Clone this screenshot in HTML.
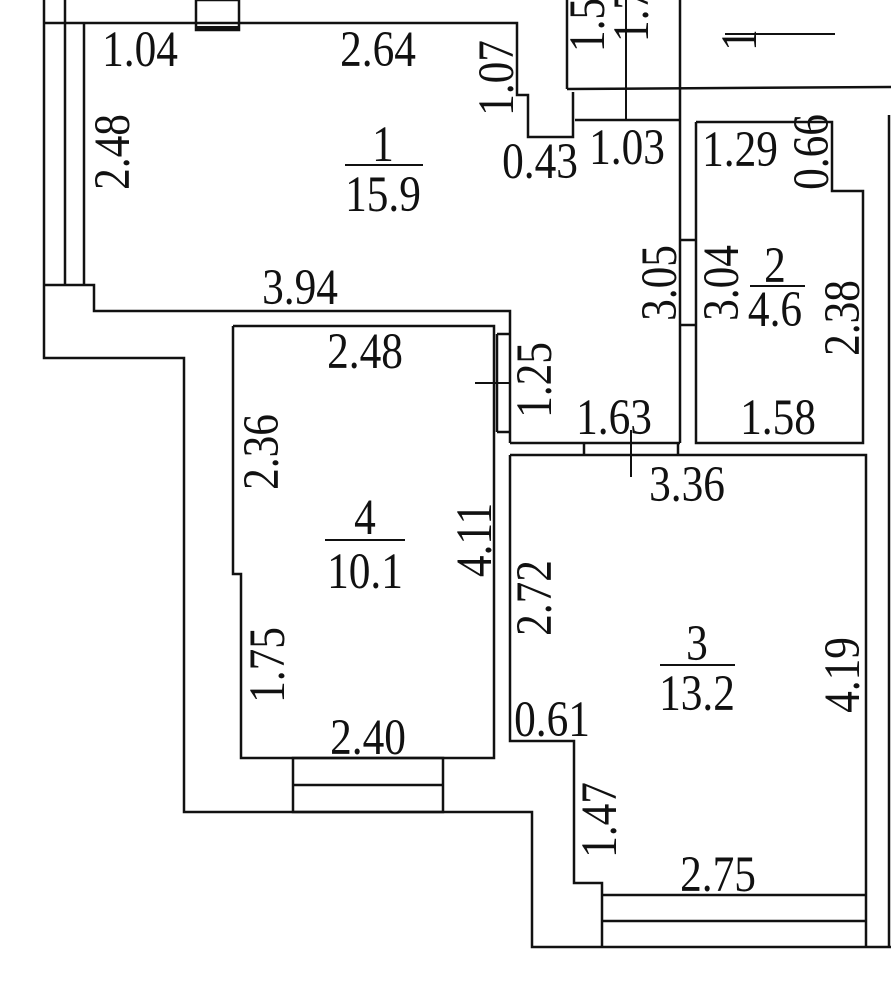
<!DOCTYPE html>
<html><head><meta charset="utf-8"><style>
html,body{margin:0;padding:0;background:#fff;}
svg{display:block}
text{font-family:"Liberation Serif",serif;font-size:51px;fill:#111;text-anchor:middle;dominant-baseline:central}
</style></head><body>
<svg width="891" height="1000" viewBox="0 0 891 1000" xmlns="http://www.w3.org/2000/svg">
<g fill="none" stroke="#111" stroke-width="2.5">
<polyline points="44,0 44,358 184,358 184,812 532,812 532,947 891,947"/>
<polyline points="65,0 65,23"/>
<polyline points="44,23 517,23 517,95 528,95 528,137 573,137 573,92"/>
<rect x="196" y="0" width="43" height="30"/>
<line x1="196" y1="28" x2="239" y2="28" stroke-width="4"/>
<line x1="65" y1="23" x2="65" y2="285"/>
<line x1="84" y1="23" x2="84" y2="285"/>
<polyline points="44,285 94,285 94,311 510,311 510,443"/>
<line x1="567" y1="0" x2="567" y2="89"/>
<line x1="567" y1="89" x2="891" y2="87"/>
<line x1="575" y1="120" x2="680" y2="120"/>
<line x1="680" y1="0" x2="680" y2="443"/>
<line x1="626" y1="0" x2="626" y2="120" stroke-width="2"/>
<line x1="725" y1="34" x2="835" y2="34" stroke-width="2"/>
<polyline points="233,326 494,326 494,758 241,758 241,574 233,574 233,326"/>
<line x1="497" y1="334" x2="510" y2="334"/>
<line x1="497" y1="432" x2="510" y2="432"/>
<line x1="497" y1="334" x2="497" y2="432"/>
<line x1="475" y1="383" x2="510" y2="383" stroke-width="2"/>
<rect x="293" y="758" width="150" height="54"/>
<line x1="293" y1="785" x2="443" y2="785"/>
<line x1="510" y1="443" x2="680" y2="443"/>
<line x1="584" y1="443" x2="584" y2="455"/>
<line x1="678" y1="443" x2="678" y2="455"/>
<line x1="631" y1="430" x2="631" y2="477" stroke-width="2"/>
<polyline points="696,122 832,122 832,191 863,191 863,443 696,443 696,122"/>
<line x1="680" y1="240" x2="696" y2="240"/>
<line x1="680" y1="325" x2="696" y2="325"/>
<line x1="889" y1="115" x2="889" y2="947"/>
<polyline points="510,455 866,455 866,947"/>
<polyline points="510,455 510,741 574,741 574,883 602,883 602,947"/>
<line x1="602" y1="895" x2="866" y2="895"/>
<line x1="602" y1="921" x2="866" y2="921"/>
<line x1="345" y1="165" x2="423" y2="165" stroke-width="2"/>
<line x1="750" y1="286" x2="805" y2="286" stroke-width="2"/>
<line x1="325" y1="540" x2="405" y2="540" stroke-width="2"/>
<line x1="660" y1="665" x2="735" y2="665" stroke-width="2"/>
</g>
<g>
<text transform="translate(140,50) scale(0.85,1)">1.04</text>
<text transform="translate(378,50) scale(0.85,1)">2.64</text>
<text transform="translate(497,78) rotate(-90) scale(0.85,1)">1.07</text>
<text transform="translate(113,152) rotate(-90) scale(0.85,1)">2.48</text>
<text transform="translate(383,145) scale(0.85,1)">1</text>
<text transform="translate(383,195) scale(0.85,1)">15.9</text>
<text transform="translate(540,162) scale(0.85,1)">0.43</text>
<text transform="translate(627,148) scale(0.85,1)">1.03</text>
<text transform="translate(740,150) scale(0.85,1)">1.29</text>
<text transform="translate(812,152) rotate(-90) scale(0.85,1)">0.66</text>
<text transform="translate(300,288) scale(0.85,1)">3.94</text>
<text transform="translate(660,283) rotate(-90) scale(0.85,1)">3.05</text>
<text transform="translate(722,283) rotate(-90) scale(0.85,1)">3.04</text>
<text transform="translate(775,266) scale(0.85,1)">2</text>
<text transform="translate(775,310) scale(0.85,1)">4.6</text>
<text transform="translate(843,318) rotate(-90) scale(0.85,1)">2.38</text>
<text transform="translate(365,352) scale(0.85,1)">2.48</text>
<text transform="translate(535,380) rotate(-90) scale(0.85,1)">1.25</text>
<text transform="translate(614,418) scale(0.85,1)">1.63</text>
<text transform="translate(778,418) scale(0.85,1)">1.58</text>
<text transform="translate(262,452) rotate(-90) scale(0.85,1)">2.36</text>
<text transform="translate(687,485) scale(0.85,1)">3.36</text>
<text transform="translate(365,518) scale(0.85,1)">4</text>
<text transform="translate(365,572) scale(0.85,1)">10.1</text>
<text transform="translate(475,540) rotate(-90) scale(0.85,1)">4.11</text>
<text transform="translate(535,598) rotate(-90) scale(0.85,1)">2.72</text>
<text transform="translate(697,644) scale(0.85,1)">3</text>
<text transform="translate(697,694) scale(0.85,1)">13.2</text>
<text transform="translate(843,675) rotate(-90) scale(0.85,1)">4.19</text>
<text transform="translate(268,665) rotate(-90) scale(0.85,1)">1.75</text>
<text transform="translate(552,720) scale(0.85,1)">0.61</text>
<text transform="translate(368,738) scale(0.85,1)">2.40</text>
<text transform="translate(600,820) rotate(-90) scale(0.85,1)">1.47</text>
<text transform="translate(718,875) scale(0.85,1)">2.75</text>
<text transform="translate(588,25) rotate(-90) scale(0.85,1)">1.5</text>
<text transform="translate(632,15) rotate(-90) scale(0.85,1)">1.7</text>
<text transform="translate(740,40) rotate(-90) scale(0.85,1)">1</text>
</g>
</svg>
</body></html>
